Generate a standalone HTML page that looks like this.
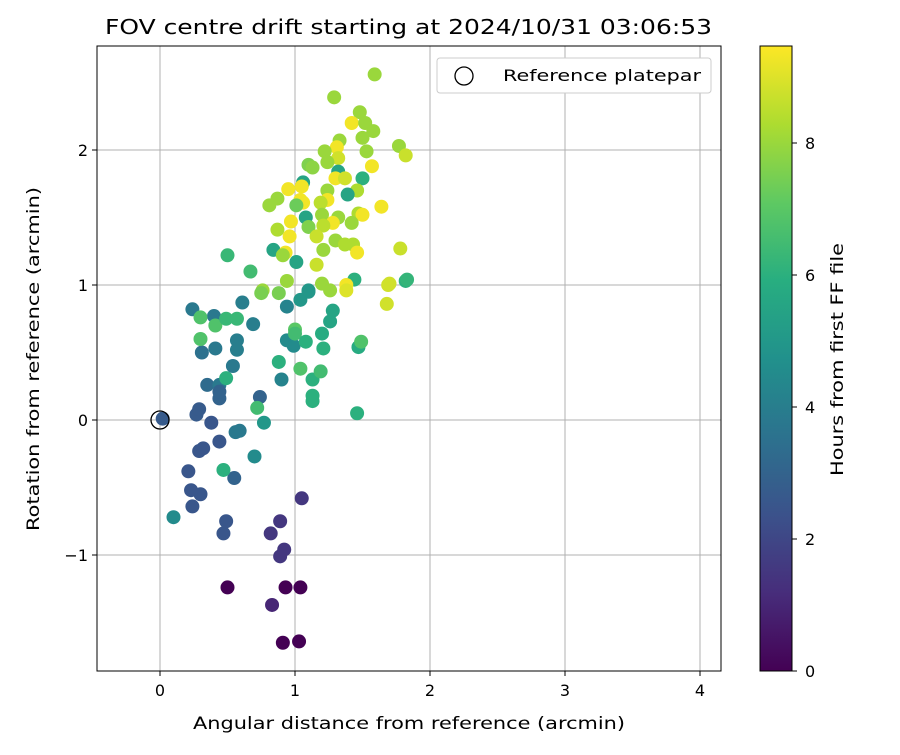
<!DOCTYPE html>
<html><head><meta charset="utf-8"><style>
body{margin:0;background:#fff;}
svg text{font-family:"DejaVu Sans","Liberation Sans",sans-serif;fill:#000;}
</style></head><body>
<svg id="chart" width="900" height="750" xmlns="http://www.w3.org/2000/svg">
<defs>
<linearGradient id="vir" x1="0" y1="1" x2="0" y2="0">
<stop offset="0" stop-color="#440154"/><stop offset="0.125" stop-color="#472d7b"/><stop offset="0.25" stop-color="#3b528b"/><stop offset="0.375" stop-color="#2c728e"/><stop offset="0.5" stop-color="#21918c"/><stop offset="0.625" stop-color="#28ae80"/><stop offset="0.75" stop-color="#5ec962"/><stop offset="0.875" stop-color="#addc30"/><stop offset="1" stop-color="#fde725"/>
</linearGradient>
<clipPath id="pc"><rect x="97" y="46" width="624" height="625"/></clipPath>
</defs>
<text x="105" y="34" font-size="20" textLength="607" lengthAdjust="spacingAndGlyphs">FOV centre drift starting at 2024/10/31 03:06:53</text>
<g id="grid"></g>
<g id="points" clip-path="url(#pc)"></g>
<rect x="97" y="46" width="624" height="625" fill="none" stroke="#000" stroke-width="1"/>
<g id="axes"></g>
<text x="193" y="729" font-size="17" textLength="432" lengthAdjust="spacingAndGlyphs">Angular distance from reference (arcmin)</text>
<text transform="translate(39,531) rotate(-90)" font-size="17" textLength="344" lengthAdjust="spacingAndGlyphs">Rotation from reference (arcmin)</text>
<g>
<rect x="437" y="58" width="274" height="35" rx="3" fill="#fff" stroke="#ccc"/>
<circle cx="464" cy="76" r="9" fill="none" stroke="#000" stroke-width="1.3"/>
<text x="503" y="81" font-size="16" textLength="198" lengthAdjust="spacingAndGlyphs">Reference platepar</text>
</g>
<rect x="760" y="46" width="32" height="625" fill="url(#vir)" stroke="#000" stroke-width="1"/>
<g id="cbticks"></g>
<text transform="translate(843,476) rotate(-90)" font-size="17" textLength="233" lengthAdjust="spacingAndGlyphs">Hours from first FF file</text>
</svg>
<script>
const xTicks=[0,1,2,3,4];
const yTicks=[-1,0,1,2];
const yTickLabels=["−1","0","1","2"];
const cbTicks=[0,2,4,6,8];
const xs=[0.50,0.93,1.04,0.91,1.03,0.83,0.89,0.92,0.82,0.89,1.05,
0.47,0.49,0.10,0.24,0.30,0.23,0.21,0.29,0.32,0.44,0.38,0.27,0.29,0.44,0.74,0.56,0.59,0.70,0.55,0.47,0.77,0.72,
0.35,0.44,0.44,0.49,0.54,0.31,0.41,0.57,0.57,0.24,0.40,0.30,0.41,0.49,0.57,0.30,0.61,0.69,0.67,0.50,
0.94,0.99,0.94,0.90,0.88,1.00,1.00,1.08,1.04,1.13,1.19,1.13,1.13,1.46,1.20,1.21,1.26,1.28,1.04,1.10,1.47,1.49,1.68,1.70,1.82,
1.59,1.29,1.48,1.42,1.52,1.58,1.50,1.33,1.77,1.82,1.53,1.31,1.32,1.22,1.24,1.10,1.13,1.57,1.32,1.50,1.30,1.37,1.06,1.46,1.24,0.95,1.05,1.39,0.87,0.81,1.04,1.06,1.01,1.24,1.19,1.64,1.47,1.50,1.42,1.08,1.20,1.32,1.28,1.21,1.10,0.97,0.87,0.84,0.96,1.16,1.01,0.93,0.91,1.21,1.30,1.37,1.43,1.46,1.78,1.16,0.94,1.20,1.26,1.44,1.38,1.38,1.69,1.83,0.76,0.75,0.88,1.10,0.02];
const ys=[-1.24,-1.24,-1.24,-1.65,-1.64,-1.37,-1.01,-0.96,-0.84,-0.75,-0.58,
-0.84,-0.75,-0.72,-0.64,-0.55,-0.52,-0.38,-0.23,-0.21,-0.16,-0.02,0.04,0.08,0.16,0.17,-0.09,-0.08,-0.27,-0.43,-0.37,-0.02,0.09,
0.26,0.26,0.21,0.31,0.40,0.50,0.53,0.59,0.52,0.82,0.77,0.76,0.70,0.75,0.75,0.60,0.87,0.71,1.10,1.22,
0.59,0.55,0.84,0.30,0.43,0.67,0.64,0.58,0.38,0.30,0.36,0.18,0.14,0.05,0.64,0.53,0.73,0.81,0.89,0.95,0.54,0.58,0.86,1.01,1.03,
2.56,2.39,2.28,2.20,2.20,2.14,2.09,2.07,2.03,1.96,1.99,2.02,1.94,1.99,1.91,1.89,1.87,1.88,1.84,1.79,1.79,1.79,1.76,1.70,1.70,1.71,1.73,1.67,1.64,1.59,1.63,1.61,1.59,1.63,1.61,1.58,1.53,1.52,1.46,1.50,1.52,1.50,1.46,1.44,1.43,1.47,1.41,1.26,1.36,1.36,1.17,1.24,1.22,1.26,1.33,1.30,1.30,1.24,1.27,1.15,1.03,1.01,0.96,1.04,1.00,0.96,1.00,1.04,0.96,0.94,0.94,0.96,0.01];
const hours=[0,0,0,0,0,1,1.5,1.5,1.5,1.5,1.5,
2.5,2.5,4.5,2.5,2.5,2.5,2.5,2.5,2.5,2.5,2.5,2.7,2.7,3,3,3.8,3.8,4.5,3,6,5,6.5,
3.3,3.8,3,6,3.8,3.5,3.8,4,4,3.8,3.8,6.8,6.8,6.3,6.3,6.8,4,4,6.5,6.3,
4.5,4.5,4.2,4.2,6,7,6.5,6,6.8,6,6.5,6,6,6,5.8,6,5.5,5.5,5,5,5.8,6.8,8.8,8.8,6,
8,8,8,9.3,8,8,8,8,8,8.7,8,9.3,8.8,8,8,7.6,7.8,9.3,5.5,6,9.3,8.8,5.5,8.3,8,9.3,9.3,5.5,8,8,9.3,9.3,7.3,9.3,8.5,9.3,8.3,9.3,8,5.5,8,8,9.3,8.5,7.6,9.3,8.3,5.5,9.3,8.7,5.5,9.3,8,8,8,8.3,8.3,9.3,8.7,8.7,8,8,8,6,9.3,9,8.8,6.2,8,7.5,7.5,5,2.7];

const X=v=>160+v*135, Y=v=>420-v*135, CB=v=>671-v*66;
const stops=["#440154","#472d7b","#3b528b","#2c728e","#21918c","#28ae80","#5ec962","#addc30","#fde725"];
function hx(c){return [1,3,5].map(i=>parseInt(c.substr(i,2),16));}
function vir(h){let t=Math.max(0,Math.min(1,h/9.47))*8;let i=Math.min(7,Math.floor(t));let f=t-i;let a=hx(stops[i]),b=hx(stops[i+1]);return "rgb("+a.map((v,k)=>Math.round(v+(b[k]-v)*f)).join(",")+")";}
const NS="http://www.w3.org/2000/svg";
function mk(tag,attrs,parent,txt){const e=document.createElementNS(NS,tag);for(const k in attrs)e.setAttribute(k,attrs[k]);if(txt!==undefined)e.textContent=txt;parent.appendChild(e);return e;}
const grid=document.getElementById('grid'),axes=document.getElementById('axes'),pts=document.getElementById('points'),cbt=document.getElementById('cbticks');
xTicks.forEach(t=>{
 const g=mk('line',{x1:X(t),x2:X(t),y1:46,y2:671,stroke:'#b0b0b0','stroke-width':1},grid);
 
 
 const tk=mk('line',{x1:X(t),x2:X(t),y1:671,y2:676,stroke:'#000'},axes);
 
 
 const l=mk('text',{x:X(t),y:696,'font-size':16,'text-anchor':'middle'},axes,String(t));
 
 
});
yTicks.forEach((t,i)=>{
 const g=mk('line',{x1:97,x2:721,y1:Y(t),y2:Y(t),stroke:'#b0b0b0','stroke-width':1},grid);
 
 
 const tk=mk('line',{x1:92,x2:97,y1:Y(t),y2:Y(t),stroke:'#000'},axes);
 
 
 const l=mk('text',{x:88,y:Y(t)+6,'font-size':16,'text-anchor':'end'},axes,yTickLabels[i]);
 
 
});
xs.forEach((x,i)=>{
 const c=mk('circle',{cx:X(x),cy:Y(ys[i]),r:7,fill:vir(hours[i])},pts);
 
 
});
const ref=mk('circle',{cx:X(0),cy:Y(0),r:9,fill:'none',stroke:'#000','stroke-width':1.3},pts);


cbTicks.forEach(t=>{
 const tk=mk('line',{x1:792,x2:797,y1:CB(t),y2:CB(t),stroke:'#000'},cbt);
 
 
 const l=mk('text',{x:805,y:CB(t)+6,'font-size':16},cbt,String(t));
 
 
});
</script>
</body></html>
